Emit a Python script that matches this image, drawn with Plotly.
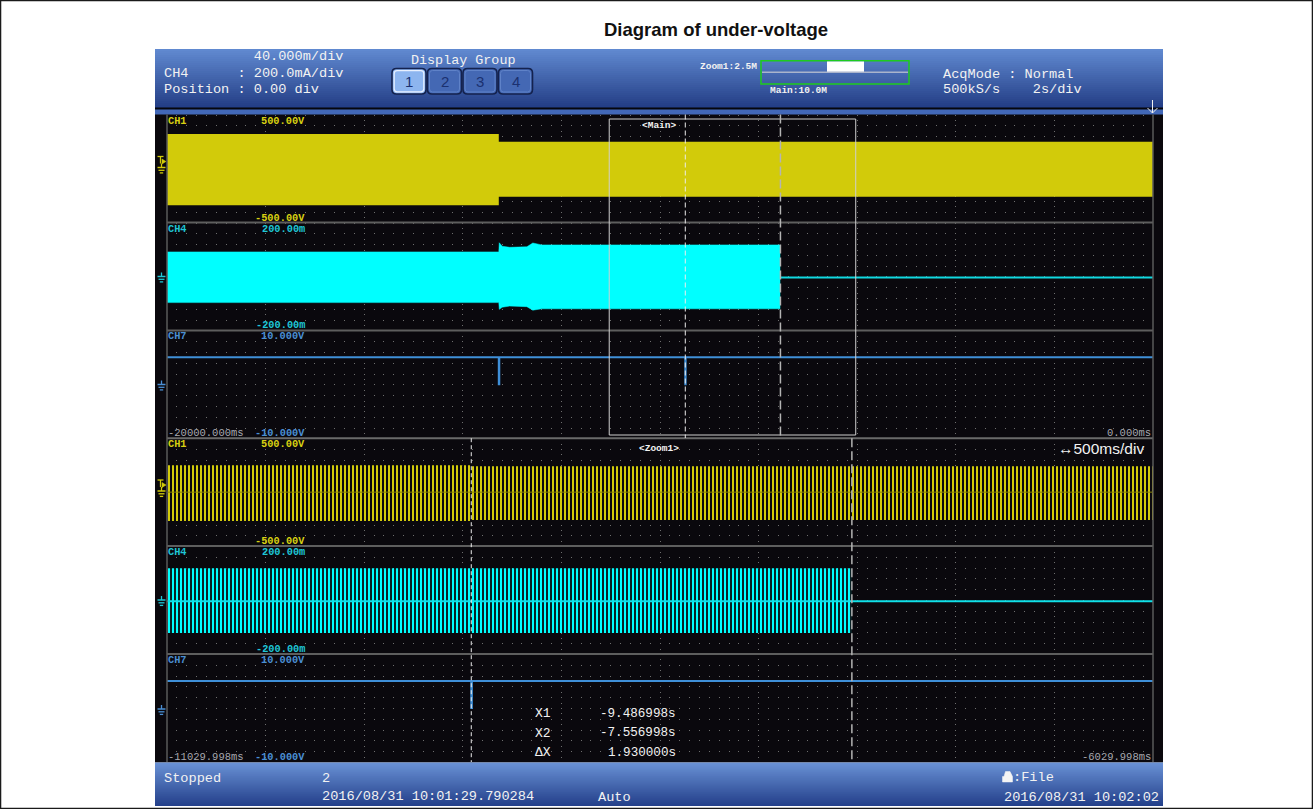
import plotly.graph_objects as go

W, H = 1313, 809

# ---------------- values ----------------
main_range = [-20.0, 0.0]             # s, 2 s/div
zoom_range = [-11.029998, -6.029998]  # s, 500 ms/div
ch1_range = [-500, 500]               # V
ch4_range = [-200, 200]               # mA
ch7_range = [-10, 10]                 # V

main_ch1_t = [-20.0, -13.27, -13.27, 0.0]
main_ch1_top = [320, 320, 248, 248]
main_ch1_bot = [-340, -340, -262, -262]

main_ch4_t = [-20.0, -13.27, -13.26, -13.2, -13.05, -12.7, -12.58, -12.4, -7.566]
main_ch4_top = [91, 91, 125, 112, 108, 110, 124, 117, 117]
main_ch4_bot = [-97, -97, -122, -114, -110, -112, -125, -120, -120]
main_ch4_off_t = [-7.566, 0.0]
main_ch4_off = [-4, -4]

main_ch7_t = [-20.0, -13.27, -13.27, -13.26, -13.26, -9.487, -9.487, -9.48, -9.48, 0.0]
main_ch7 = [5, 5, 0, 0, 5, 5, 0, 0, 5, 5]

zoom_ch1_t = [-11.029998, -9.487, -9.487, -6.029998]
zoom_ch1_top = [250, 250, 241, 241]
zoom_ch1_bot = [-268, -268, -259, -259]

zoom_ch4_t = [-11.029998, -7.557]
zoom_ch4_top = [118, 118]
zoom_ch4_bot = [-122, -122]
zoom_ch4_line_t = [-11.029998, -6.029998]
zoom_ch4_line = [-4, -4]

zoom_ch7_t = [-11.029998, -9.487, -9.487, -9.484, -9.484, -6.029998]
zoom_ch7 = [5, 5, 0, 0, 5, 5]

cursor_x1 = -9.486998
cursor_x2 = -7.556998
right_markers = [116, -4, 5]          # CH1 V, CH4 mA, CH7 V

channel_names = ["CH1", "CH4", "CH7"]
scale_top = ["500.00V", "200.00m", "10.000V"]
scale_bot = ["-500.00V", "-200.00m", "-10.000V"]
main_time_labels = ["-20000.000ms", "0.000ms"]
zoom_time_labels = ["-11029.998ms", "-6029.998ms"]
cursor_names = ["X1", "X2", "ΔX"]
cursor_values = ["-9.486998s", "-7.556998s", "1.930000s"]
header_left = ["\u00a0" * 11 + "40.000m/div", "CH4" + "\u00a0" * 6 + ":\u00a0200.0mA/div",
               "Position\u00a0:\u00a00.00\u00a0div"]
group_buttons = ["1", "2", "3", "4"]
acq_lines = ["AcqMode\u00a0:\u00a0Normal", "500kS/s" + "\u00a0" * 4 + "2s/div"]
status_texts = ["Stopped", "2", "2016/08/31\u00a010:01:29.790284", "Auto", ":File",
                "2016/08/31\u00a010:02:02"]
title_text = "Diagram of under-voltage"

# ---------------- styling ----------------
BG = "#0a080d"
YEL = "#d2cb0a"
CYN = "#00ffff"
BLU = "#3f8fd8"
YEL_T = "#d8d012"
CYN_T = "#1fc6d6"
BLU_T = "#4a8fd4"
GRID = "#6e6e6e"
SEP = "#5e5e5e"
TIME_T = "#a8a8b0"
WHITE = "#f2f2f2"
MONO = "Liberation Mono"
SANS = "Liberation Sans"

XL, XR = 167.0, 1153.0
main_bands = [(114.5, 222.5), (222.5, 330.4), (330.4, 438.2)]
zoom_bands = [(438.2, 546.1), (546.1, 654.0), (654.0, 762.0)]


def X(px):
    return px / W


def Y(py):
    return 1 - py / H


fig = go.Figure()


def band_poly(t, top, bot):
    return t + t[::-1], top + bot[::-1]


# ---------- main window traces ----------
x, y = band_poly(main_ch1_t, main_ch1_top, main_ch1_bot)
fig.add_trace(go.Scatter(x=x, y=y, xaxis="x", yaxis="y", fill="toself", fillcolor=YEL,
                         mode="lines", line=dict(width=0, color=YEL)))
x, y = band_poly(main_ch4_t, main_ch4_top, main_ch4_bot)
fig.add_trace(go.Scatter(x=x, y=y, xaxis="x", yaxis="y2", fill="toself", fillcolor=CYN,
                         mode="lines", line=dict(width=0.5, color=CYN)))
fig.add_trace(go.Scatter(x=main_ch4_off_t, y=main_ch4_off, xaxis="x", yaxis="y2",
                         mode="lines", line=dict(width=2, color="#10d8e0")))
fig.add_trace(go.Scatter(x=main_ch7_t, y=main_ch7, xaxis="x", yaxis="y3",
                         mode="lines", line=dict(width=2, color=BLU)))
# right-edge level markers
for yax, val, col in zip(["y", "y2", "y3"], right_markers, [YEL, "#10d8e0", BLU]):
    fig.add_trace(go.Scatter(x=[main_range[1] + 0.1], y=[val], xaxis="x", yaxis=yax,
                             mode="markers", cliponaxis=False,
                             marker=dict(symbol="triangle-left", size=9, color=col)))

# ---------- zoom window traces ----------
x, y = band_poly(zoom_ch1_t, zoom_ch1_top, zoom_ch1_bot)
fig.add_trace(go.Scatter(x=x, y=y, xaxis="x2", yaxis="y4", fill="toself", mode="lines",
                         line=dict(width=0, color=YEL),
                         fillpattern=dict(shape="|", fgcolor=YEL, bgcolor=BG, size=4,
                                          solidity=0.5, fillmode="replace")))
fig.add_trace(go.Scatter(x=zoom_range, y=[0, 0], xaxis="x2", yaxis="y4", mode="lines",
                         line=dict(width=1, color="#8a8408")))
x, y = band_poly(zoom_ch4_t, zoom_ch4_top, zoom_ch4_bot)
fig.add_trace(go.Scatter(x=x, y=y, xaxis="x2", yaxis="y5", fill="toself", mode="lines",
                         line=dict(width=0, color=CYN),
                         fillpattern=dict(shape="|", fgcolor=CYN, bgcolor=BG, size=4,
                                          solidity=0.55, fillmode="replace")))
fig.add_trace(go.Scatter(x=zoom_ch4_line_t, y=zoom_ch4_line, xaxis="x2", yaxis="y5",
                         mode="lines", line=dict(width=2, color="#10e0e8")))
fig.add_trace(go.Scatter(x=zoom_ch7_t, y=zoom_ch7, xaxis="x2", yaxis="y6",
                         mode="lines", line=dict(width=2, color=BLU)))

# ---------- axes ----------
xdom = [X(XL), X(XR)]


def xaxis_cfg(rng, t0, dt, anchor):
    return dict(domain=xdom, range=rng, anchor=anchor, tick0=t0, dtick=dt,
                showgrid=True, gridcolor=GRID, gridwidth=1, griddash="1px,4.4px",
                minor=dict(tick0=t0, dtick=dt / 10, showgrid=True, gridcolor=GRID,
                           gridwidth=1, griddash="1px,9.79px"),
                showticklabels=False, ticks="", zeroline=False, showline=False,
                fixedrange=True)


def yaxis_cfg(band, rng, anchor):
    return dict(domain=[Y(band[1]), Y(band[0])], range=rng, anchor=anchor,
                showgrid=False, zeroline=False, showticklabels=False, ticks="",
                showline=False, fixedrange=True)


ranges = [ch1_range, ch4_range, ch7_range]
layout_axes = dict(
    xaxis=xaxis_cfg(main_range, 0.0, 2.0, "y3"),
    xaxis2=xaxis_cfg(zoom_range, zoom_range[0], 0.5, "y6"),
)
for i in range(3):
    layout_axes["yaxis" if i == 0 else f"yaxis{i + 1}"] = yaxis_cfg(main_bands[i], ranges[i], "x")
    layout_axes[f"yaxis{i + 4}"] = yaxis_cfg(zoom_bands[i], ranges[i], "x2")

# ---------- decorative shapes ----------
shapes = []


def rect(x0, y0, x1, y1, fill, line_color=None, lw=0, layer="above"):
    shapes.append(dict(type="rect", xref="paper", yref="paper", x0=X(x0), x1=X(x1),
                       y0=Y(y1), y1=Y(y0), fillcolor=fill, layer=layer,
                       line=dict(width=lw, color=line_color or "rgba(0,0,0,0)")))


def seg(x0, y0, x1, y1, color, width=1, dash="solid", xref="paper"):
    xx0 = x0 if xref != "paper" else X(x0)
    xx1 = x1 if xref != "paper" else X(x1)
    shapes.append(dict(type="line", xref=xref, yref="paper", x0=xx0, x1=xx1,
                       y0=Y(y0), y1=Y(y1), line=dict(color=color, width=width, dash=dash)))


def path(pts, color=None, fill=None, lw=1, close=False):
    d = "M" + " L".join(f"{X(a):.6f},{Y(b):.6f}" for a, b in pts) + (" Z" if close else "")
    shapes.append(dict(type="path", xref="paper", yref="paper", path=d,
                       fillcolor=fill, line=dict(color=color or "rgba(0,0,0,0)", width=lw)))


def rrect(x0, y0, x1, y1, r, fill, color, lw):
    p = (f"M{X(x0 + r)},{Y(y0)} L{X(x1 - r)},{Y(y0)} Q{X(x1)},{Y(y0)} {X(x1)},{Y(y0 + r)} "
         f"L{X(x1)},{Y(y1 - r)} Q{X(x1)},{Y(y1)} {X(x1 - r)},{Y(y1)} L{X(x0 + r)},{Y(y1)} "
         f"Q{X(x0)},{Y(y1)} {X(x0)},{Y(y1 - r)} L{X(x0)},{Y(y0 + r)} Q{X(x0)},{Y(y0)} {X(x0 + r)},{Y(y0)} Z")
    shapes.append(dict(type="path", xref="paper", yref="paper", path=p, fillcolor=fill,
                       line=dict(color=color, width=lw)))


def gradient(y0, y1, c0, c1, step=2):
    n = int((y1 - y0) / step + 0.999)
    for k in range(n):
        f = k / max(n - 1, 1)
        c = tuple(int(round(c0[j] + (c1[j] - c0[j]) * f)) for j in range(3))
        ya = y0 + k * step
        yb = min(y1, ya + step + 0.6)
        rect(155, ya, 1163, yb, f"rgb{c}", layer="below")


# screen background, header and status bar
rect(155, 108, 1163, 762.5, BG, layer="below")
gradient(49, 108, (96, 137, 208), (34, 60, 132))
rect(155, 107.6, 1163, 109.4, "#05060c", layer="below")
rect(155, 109.4, 1163, 114.5, "rgb(66,104,184)", layer="below")
gradient(762.5, 806, (104, 144, 212), (36, 64, 138))

# frame
shapes.append(dict(type="rect", xref="paper", yref="paper", x0=0.0004, x1=0.9996,
                   y0=0.0006, y1=0.9994, line=dict(color="#1a1a1a", width=1.5)))

# plot borders and band separators
for yy in [222.5, 330.4, 546.1, 654.0]:
    seg(XL, yy, XR, yy, SEP, 2)
seg(XL, 438.2, XR, 438.2, "#6a6a6a", 2)
seg(XL, 114.5, XL, 762, "#5a5a5a", 1.5)
seg(XR, 114.5, XR, 762, "#5a5a5a", 1.5)

# zoom box and cursors in the main window
shapes.append(dict(type="rect", xref="x", yref="paper", x0=zoom_range[0], x1=zoom_range[1],
                   y0=Y(435), y1=Y(119), line=dict(color="#cfcfcf", width=1)))
seg(cursor_x1, 114.5, cursor_x1, 438, "#ececec", 1, "5px,3px", xref="x")
seg(cursor_x2, 114.5, cursor_x2, 438, "#b4b4b4", 1.5, "9px,4px", xref="x")
seg(cursor_x1, 438.2, cursor_x1, 762, "#ececec", 1, "4px,3px", xref="x2")
seg(cursor_x2, 438.2, cursor_x2, 762, "#b4b4b4", 1.5, "9px,4px", xref="x2")

# ground / trigger markers at the left margin
zero_px = [168.5, 277.5, 385.5, 492.0, 601.0, 710.0]
mcols = [YEL, CYN_T, BLU_T, YEL, CYN_T, BLU_T]
for k, (y0, col) in enumerate(zip(zero_px, mcols)):
    seg(161.5, y0 - 5, 161.5, y0 - 1, col, 1.3)
    seg(157.5, y0 - 1, 165.5, y0 - 1, col, 1.5)
    seg(158.5, y0 + 1.8, 164.5, y0 + 1.8, col, 1.3)
    seg(159.8, y0 + 4.4, 163.2, y0 + 4.4, col, 1.3)
    if k % 3 == 0:
        seg(157.5, y0 - 12, 163.5, y0 - 12, col, 1.3)
        seg(160.5, y0 - 12, 160.5, y0 - 5, col, 1.3)
        path([(162, y0 - 9.5), (166, y0 - 7), (162, y0 - 4.5)], fill=col, color=col, lw=0.5, close=True)

# header widgets
bx = [(392, 426), (427.5, 461.5), (463, 497), (498.5, 532.5)]
for k, (a, b) in enumerate(bx):
    if k == 0:
        rrect(a, 68.5, b, 94, 4.5, "#8db5ef", "#14224e", 1.6)
        rrect(a + 2.2, 70.7, b - 2.2, 91.8, 3, "rgba(0,0,0,0)", "#e8f0ff", 1.2)
    else:
        rrect(a, 68.5, b, 94, 4.5, "#4468b4", "#14224e", 1.6)
        rrect(a + 2, 70.5, b - 2, 92, 3, "rgba(0,0,0,0)", "#5f82c8", 1)
rect(761, 60.7, 909, 84, "rgba(0,0,0,0)", "#1ecb1e", 1.5)
rect(827, 61.5, 864, 72, "#ffffff")
seg(762, 72.3, 908, 72.3, "#aab4cc", 1.5)
# trigger-position arrow
seg(1152.5, 100, 1152.5, 113, "#f0f0f0", 1)
path([(1147.5, 108), (1152.5, 113), (1157.5, 108)], color="#f0f0f0", lw=1)
# printer icon
path([(1002.5, 782), (1012.5, 782), (1012.5, 776.5), (1010, 771.5), (1005.5, 771.5),
      (1004, 776.5), (1002.5, 776.5)], fill="#f4f4f4", color="#f4f4f4", lw=0.5, close=True)

# ---------- text ----------
ann = []


def txt(px, py, s, size, color, anchor="left", family=MONO, weight="normal"):
    dx = {"left": -2, "right": 2, "center": 0}[anchor]
    ann.append(dict(x=X(px + dx), y=Y(py), xref="paper", yref="paper", text=s,
                    showarrow=False, xanchor=anchor, yanchor="middle",
                    font=dict(family=family, size=size, color=color, weight=weight)))


txt(716, 30, f"<b>{title_text}</b>", 18.5, "#111111", "center", SANS)

for k, (s, yy) in enumerate(zip(header_left, [56.5, 73.3, 89.5])):
    txt(164, yy, s, 13.6, WHITE)
txt(411, 60.5, "Display\u00a0Group", 13.4, WHITE)
for (a, b), s in zip(bx, group_buttons):
    txt((a + b) / 2, 81.5, s, 15, "#1b3170", "center", SANS)
txt(700, 66, "Zoom1:2.5M", 9.5, WHITE, weight="bold")
txt(770, 90, "Main:10.0M", 9.5, WHITE, weight="bold")
txt(943, 74, acq_lines[0], 13.6, WHITE)
txt(943, 89.5, acq_lines[1], 13.6, WHITE)

txt_cols = [YEL_T, CYN_T, BLU_T]
for bands in (main_bands, zoom_bands):
    for i, (tp, bt) in enumerate(bands):
        txt(168, tp + 6, channel_names[i], 10.3, txt_cols[i], weight="bold")
        txt(305, tp + 6, scale_top[i], 10.3, txt_cols[i], "right", weight="bold")
        txt(305, bt - 5, scale_bot[i], 10.3, txt_cols[i], "right", weight="bold")

txt(168, 433.2, main_time_labels[0], 10.5, TIME_T)
txt(1151, 432.5, main_time_labels[1], 10.5, TIME_T, "right")
txt(168, 756.5, zoom_time_labels[0], 10.5, TIME_T)
txt(1151, 756.5, zoom_time_labels[1], 10.5, TIME_T, "right")
txt(659, 125.5, "&lt;Main&gt;", 9.5, WHITE, "center", weight="bold")
txt(659, 448.5, "&lt;Zoom1&gt;", 9.5, WHITE, "center", weight="bold")
txt(1144, 448.5, "↔500ms/div", 15.5, WHITE, "right", SANS)

for k, yy in enumerate([713.5, 733, 752.5]):
    txt(535, yy, cursor_names[k], 13, WHITE)
    txt(676, yy, cursor_values[k], 12.6, WHITE, "right")

txt(164, 778, status_texts[0], 13.6, WHITE)
txt(322, 778, status_texts[1], 13.6, WHITE)
txt(322, 796.7, status_texts[2], 13.6, WHITE)
txt(598, 797.5, status_texts[3], 13.6, WHITE)
txt(1013, 777.5, status_texts[4], 13.6, WHITE)
txt(1159, 797, status_texts[5], 13.6, WHITE, "right")

fig.update_layout(
    width=W, height=H, margin=dict(l=0, r=0, t=0, b=0),
    paper_bgcolor="white", plot_bgcolor=BG, showlegend=False, hovermode=False,
    shapes=shapes, annotations=ann, **layout_axes,
)

fig.write_html(
    "out.html",
    config={"displayModeBar": False},
    post_script="document.body.style.margin='0';document.body.style.padding='0';"
                "document.documentElement.style.overflow='hidden';",
)
